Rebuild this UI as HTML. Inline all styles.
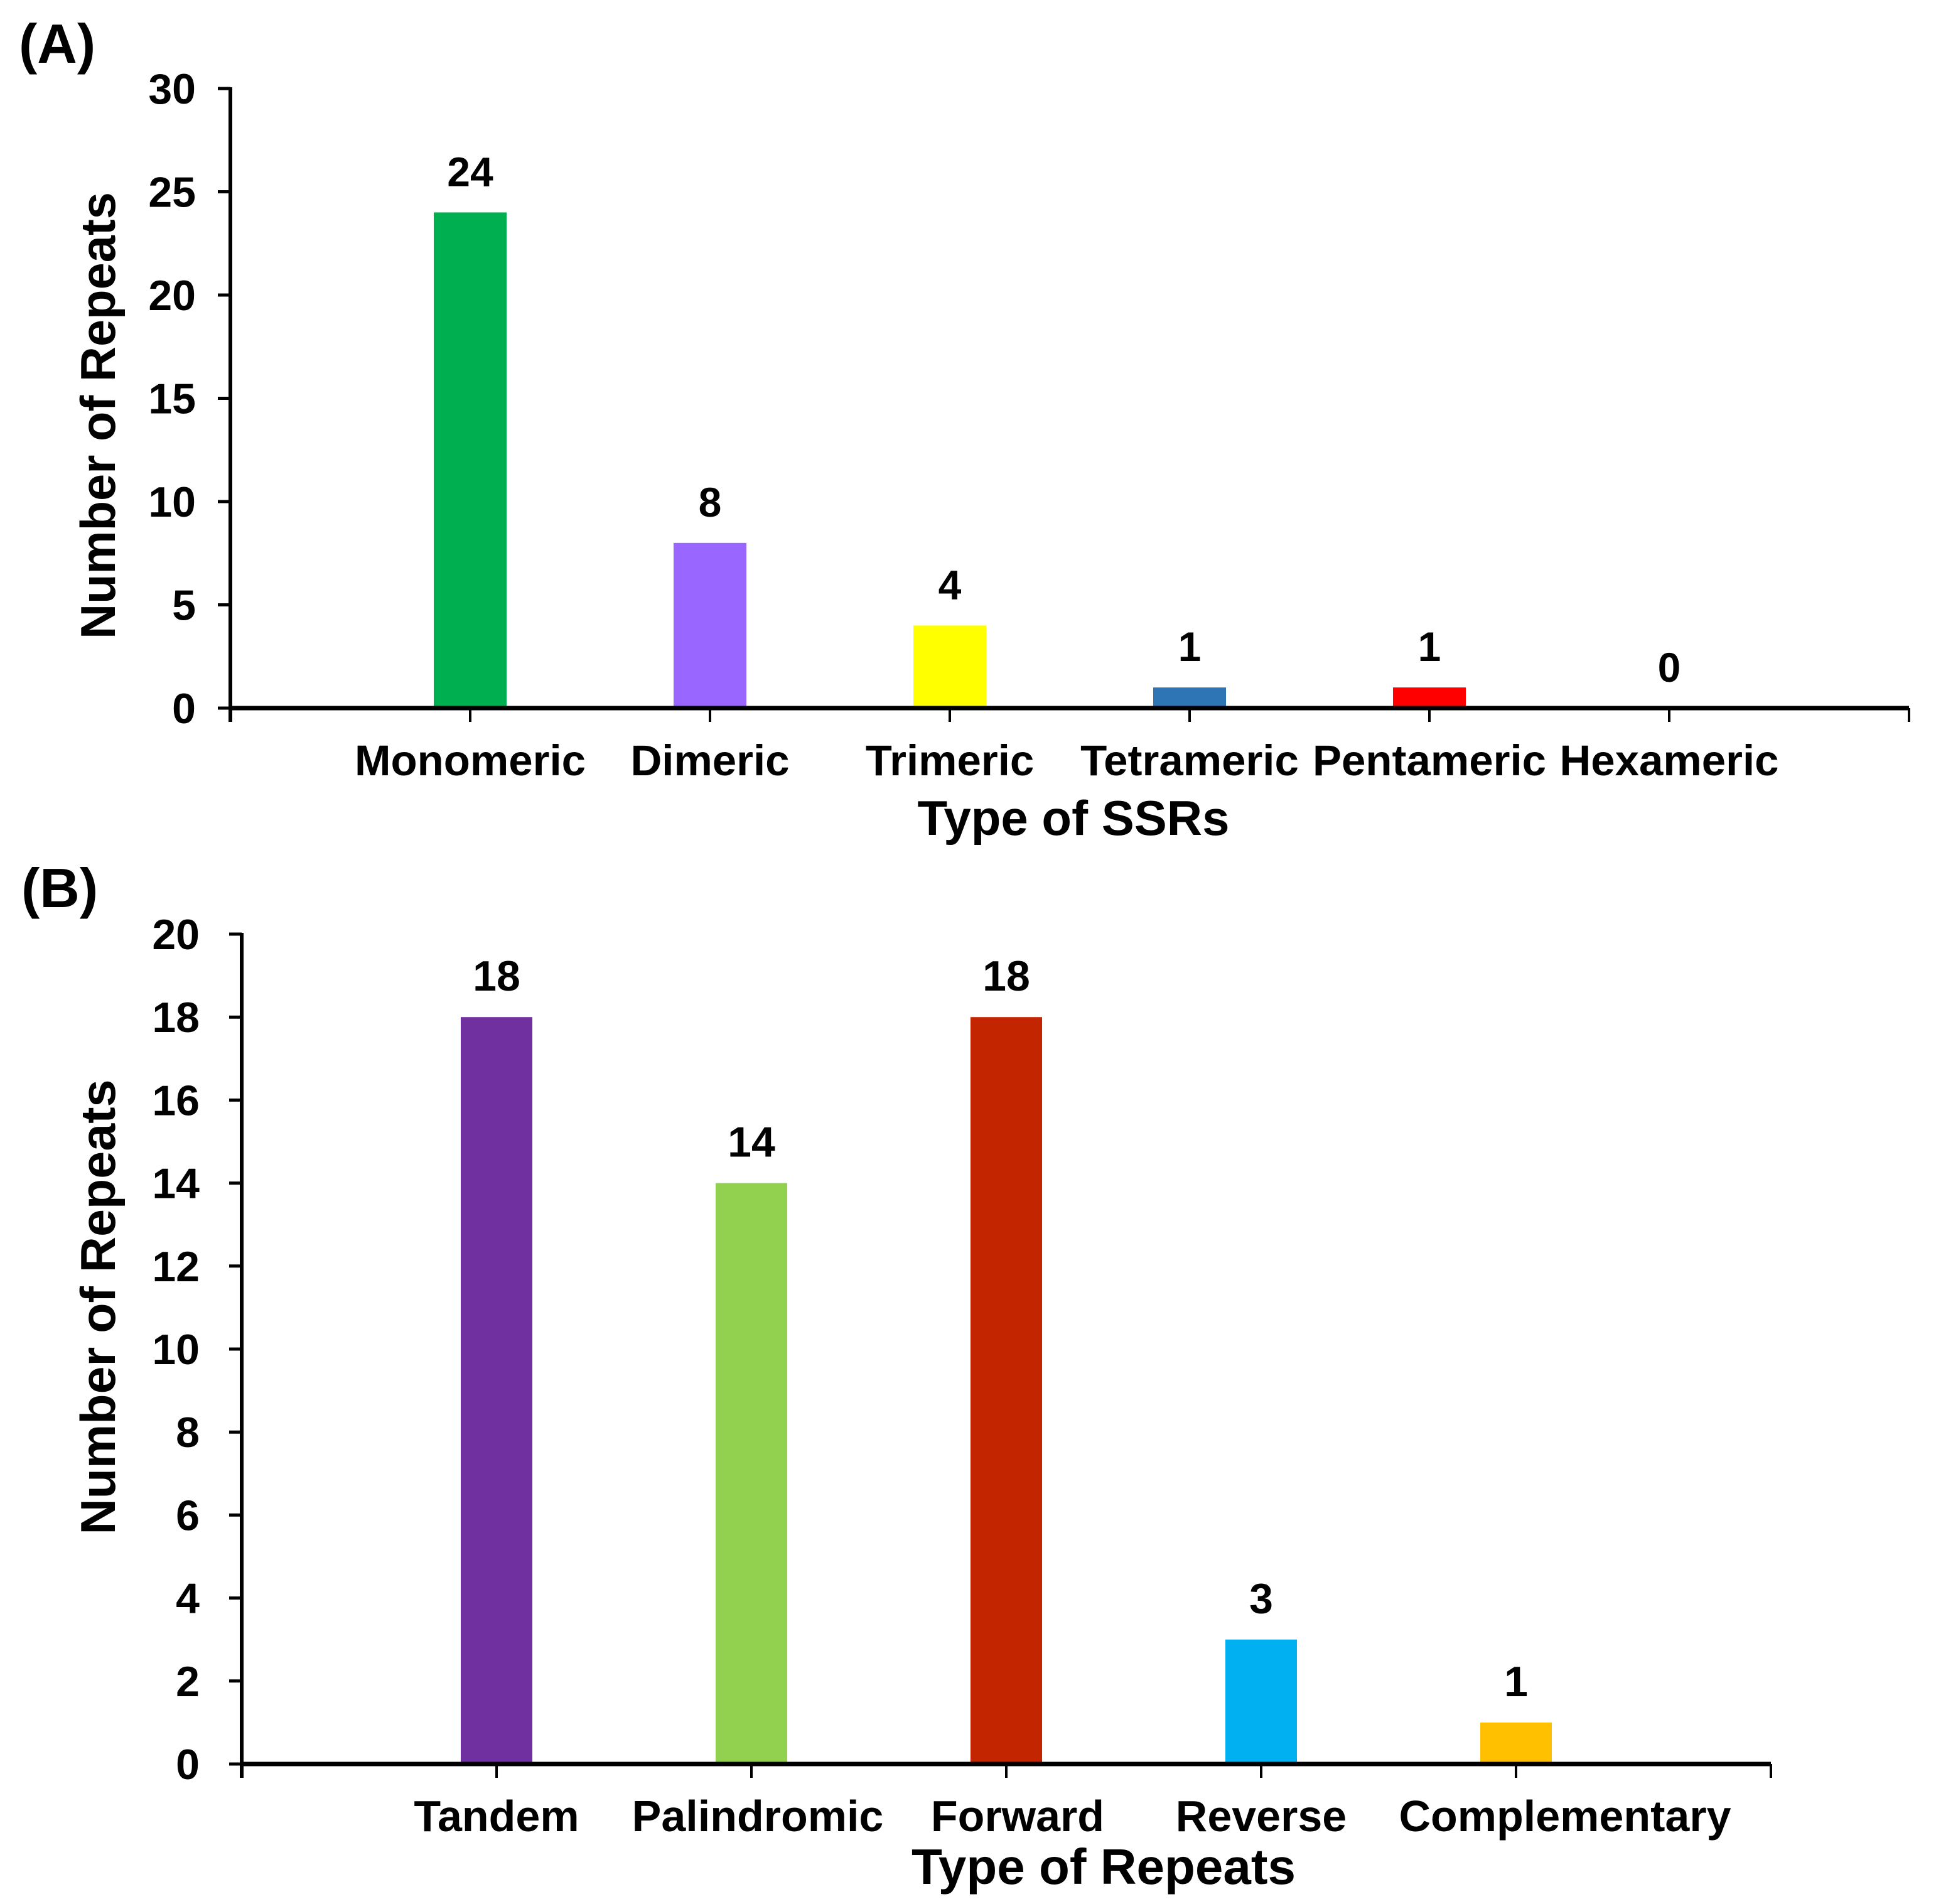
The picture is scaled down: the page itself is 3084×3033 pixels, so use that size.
<!DOCTYPE html>
<html><head><meta charset="utf-8"><style>
html,body{margin:0;padding:0;background:#fff}
svg{display:block}
text{font-family:"Liberation Sans",Arial,sans-serif;font-weight:bold;fill:#000}
</style></head><body>
<svg id="fig" width="3084" height="3033" viewBox="0 0 3084 3033" xmlns="http://www.w3.org/2000/svg">
<rect x="0" y="0" width="3084" height="3033" fill="#fff"/>
<text x="30" y="100" font-size="88">(A)</text>
<text x="34" y="1445" font-size="88">(B)</text>
<g id="chartA"></g>
<g id="chartB"></g>
</svg>
<script>
// Panel A data
const catsA = ["Monomeric","Dimeric","Trimeric","Tetrameric","Pentameric","Hexameric"];
const valsA = [24, 8, 4, 1, 1, 0];
const colorsA = ["#00b050","#9966ff","#ffff00","#2e75b6","#ff0000","#888888"];
const ticksA = [0,5,10,15,20,25,30];
// Panel B data
const catsB = ["Tandem","Palindromic","Forward","Reverse","Complementary"];
const valsB = [18, 14, 18, 3, 1];
const colorsB = ["#7030a0","#92d050","#c32500","#00b0f0","#ffc000"];
const ticksB = [0,2,4,6,8,10,12,14,16,18,20];

const NS = "http://www.w3.org/2000/svg";
function mk(parent, tag, attrs, txt){
  const e = document.createElementNS(NS, tag);
  for (const k in attrs) e.setAttribute(k, attrs[k]);
  if (txt !== undefined) e.textContent = txt;
  parent.appendChild(e);
  return e;
}
function drawChart(g, cfg, cats, vals, colors, ticks){
  const yMax = ticks[ticks.length-1];
  const y = v => cfg.y0 - (cfg.y0 - cfg.yTop) * v / yMax;
  const x = i => cfg.axisX + cfg.step * (i + 1);
  const xEnd = x(cats.length);
  cats.forEach((c, i) => {
    if (vals[i] > 0) {
      const r = mk(g, "rect", {x: x(i) - cfg.barW/2, y: y(vals[i]), width: cfg.barW, height: cfg.y0 - y(vals[i]), fill: colors[i]});
      
      
    }
    const vl = mk(g, "text", {x: x(i), y: y(vals[i]) - 42, "font-size": cfg.valFont, "text-anchor": "middle"}, String(vals[i]));
    
    
    const cl = mk(g, "text", {x: x(i) + (cfg.labelShift ? cfg.labelShift[i] : 0), y: cfg.catY, "font-size": cfg.catFont, "text-anchor": "middle"}, c);
    
    
  });
  const xa = mk(g, "line", {x1: cfg.axisX - 3, y1: cfg.y0, x2: xEnd, y2: cfg.y0, stroke: "#000", "stroke-width": 7});
  
  
  for (let i = -1; i <= cats.length; i++) {
    const t = mk(g, "line", {x1: x(i), y1: cfg.y0, x2: x(i), y2: cfg.y0 + 22, stroke: "#000", "stroke-width": 4});
    
    
  }
  const ya = mk(g, "line", {x1: cfg.axisX, y1: cfg.yTop - 2, x2: cfg.axisX, y2: cfg.y0 + 22, stroke: "#000", "stroke-width": 6});
  
  
  ticks.forEach(v => {
    const t = mk(g, "line", {x1: cfg.axisX - 20, y1: y(v), x2: cfg.axisX, y2: y(v), stroke: "#000", "stroke-width": 5});
    
    
    const l = mk(g, "text", {x: cfg.tickRight, y: y(v) + 24, "font-size": 68, "text-anchor": "end"}, String(v));
    
    
  });
  const yt = mk(g, "text", {x: 0, y: 0, "font-size": 78, "text-anchor": "middle", transform: "translate(183," + cfg.yTitleC + ") rotate(-90)", textLength: cfg.yTitleLen, lengthAdjust: "spacingAndGlyphs"}, "Number of Repeats");
  
  
  const xt = mk(g, "text", {x: cfg.xTitleC, y: cfg.xTitleY, "font-size": cfg.xTitleFont, "text-anchor": "middle"}, cfg.xTitle);
  
  
}
drawChart(document.getElementById("chartA"),
  {axisX: 367, step: 382, y0: 1128, yTop: 141, barW: 116, valFont: 66, catY: 1235, catFont: 69, tickRight: 312,
   yTitleC: 662, yTitleLen: 712, xTitle: "Type of SSRs", xTitleC: 1710, xTitleY: 1330, xTitleFont: 78},
  catsA, valsA, colorsA, ticksA);
drawChart(document.getElementById("chartB"),
  {axisX: 385, step: 406, y0: 2810, yTop: 1488, barW: 114, valFont: 68, catY: 2917, catFont: 70, tickRight: 318,
   labelShift: [0, 10, 18, 0, 78],
   yTitleC: 2082, yTitleLen: 725, xTitle: "Type of Repeats", xTitleC: 1758, xTitleY: 3001, xTitleFont: 80},
  catsB, valsB, colorsB, ticksB);
</script>
</body></html>
